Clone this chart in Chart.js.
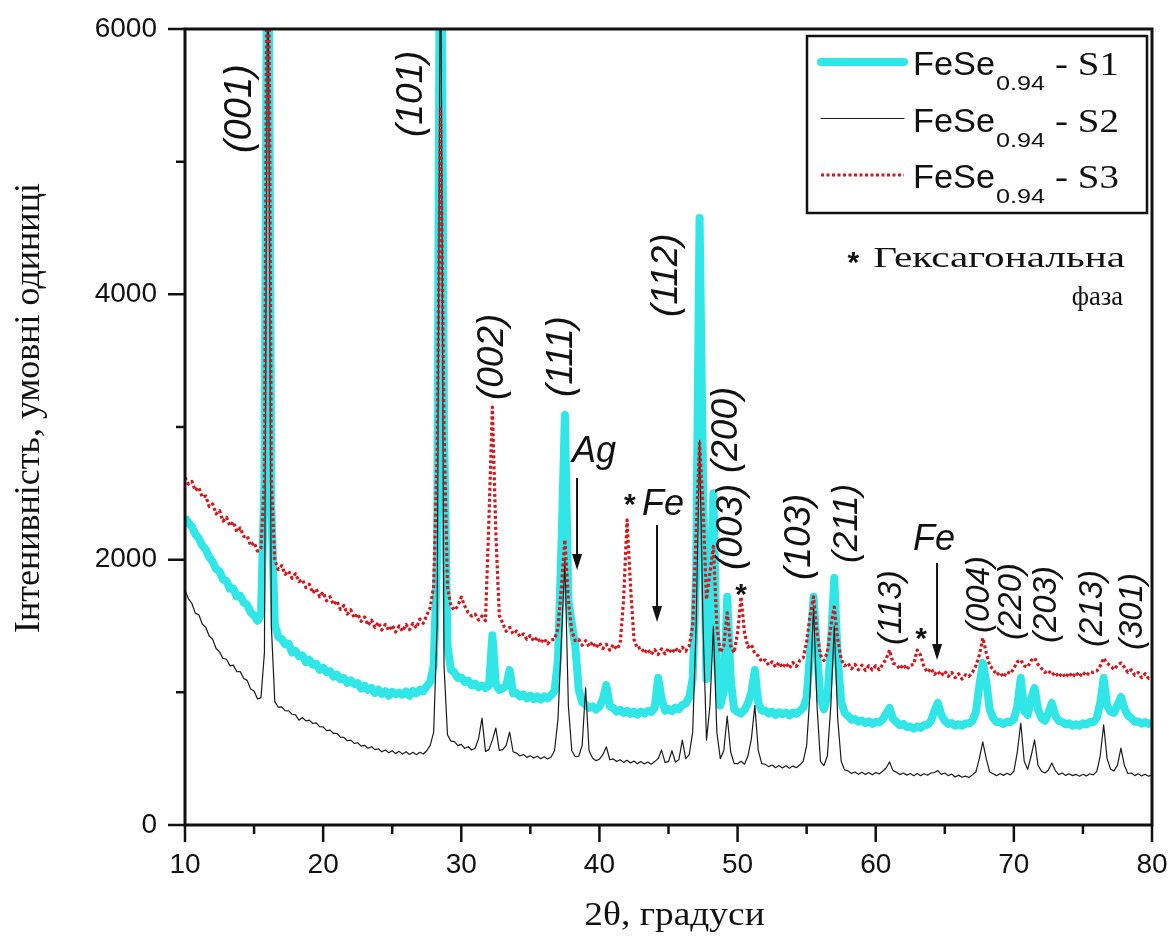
<!DOCTYPE html>
<html lang="uk">
<head>
<meta charset="utf-8">
<title>FeSe0.94 — дифрактограми</title>
<script src="https://cdn.jsdelivr.net/npm/chart.js@4.4.1/dist/chart.umd.min.js"></script>
<style>
  html, body { margin: 0; padding: 0; background: #fff; }
  #wrap { width: 1170px; height: 938px; }
</style>
</head>
<body>
<div id="wrap"><canvas id="xrdChart" width="1170" height="938"></canvas></div>
<script>
// Дифрактограми зразків FeSe0.94, крок сканування 0.25° (10°…80°)
const scanStart = 10;
const scanStep = 0.25;

// S1 — інтенсивність, по рядку на кожен градус (10.00, 10.25, 10.50, 10.75)
const intensityS1 = [
  2320, 2275, 2250, 2190,
  2160, 2105, 2075, 2020,
  1985, 1930, 1912, 1850,
  1840, 1780, 1782, 1722,
  1728, 1676, 1660, 1602,
  1580, 1540, 1585, 2600,
  8000, 2400, 1510, 1420,
  1402, 1362, 1368, 1300,
  1312, 1272, 1278, 1228,
  1246, 1208, 1215, 1170,
  1186, 1152, 1160, 1118,
  1134, 1098, 1108, 1072,
  1090, 1062, 1070, 1028,
  1050, 1018, 1034, 995,
  1020, 988, 1008, 975,
  1004, 985, 998, 982,
  1006, 975, 1010, 992,
  1020, 1008, 1048, 1080,
  1200, 2000, 8000, 3000,
  1350, 1170, 1150, 1108,
  1112, 1078, 1088, 1052,
  1066, 1038, 1052, 1032,
  1048, 1430, 1060, 1018,
  1030, 1050, 1168, 992,
  995, 968, 985, 955,
  975, 948, 970, 945,
  970, 955, 978, 1010,
  1250, 2100, 3090, 1700,
  1520, 1350, 1020, 925,
  908, 882, 895, 870,
  890, 950, 1055, 895,
  880, 855, 868, 845,
  860, 838, 855, 832,
  855, 840, 860, 852,
  885, 1108, 950, 862,
  875, 858, 885, 872,
  905, 915, 965, 1100,
  1900, 4575, 2600, 1100,
  1700, 2500, 1250, 900,
  1000, 1720, 1100, 872,
  852, 840, 868, 918,
  1000, 1168, 920, 862,
  862, 840, 855, 830,
  850, 835, 848, 826,
  848, 838, 858, 885,
  960, 1300, 1720, 1300,
  950, 872, 965, 1350,
  1862, 1250, 930, 845,
  822, 792, 798, 778,
  788, 768, 782, 762,
  778, 772, 795, 840,
  882, 800, 776, 752,
  762, 738, 742, 726,
  742, 732, 752, 756,
  785, 860, 920, 830,
  785, 762, 768, 748,
  760, 748, 766, 765,
  785, 850, 1050, 1221,
  1080, 870, 806, 774,
  776, 762, 778, 776,
  795, 900, 1108, 860,
  830, 950, 1033, 870,
  805, 785, 845, 920,
  825, 785, 776, 758,
  766, 748, 760, 748,
  766, 758, 776, 775,
  805, 920, 1108, 900,
  852, 845, 905, 965,
  880, 825, 806, 778,
  780, 764, 776, 762,
  769
];

// S2
const intensityS2 = [
  1770, 1705, 1670, 1595,
  1585, 1515, 1490, 1425,
  1400, 1330, 1305, 1255,
  1250, 1200, 1205, 1155,
  1156, 1105, 1090, 1025,
  1010, 950, 960, 1300,
  7000, 1500, 930, 888,
  890, 862, 860, 835,
  830, 790, 810, 785,
  790, 765, 770, 742,
  740, 712, 715, 690,
  690, 662, 660, 635,
  640, 615, 620, 595,
  600, 578, 590, 568,
  575, 552, 565, 545,
  560, 538, 555, 535,
  553, 532, 548, 530,
  548, 535, 560, 600,
  700, 1500, 7000, 1200,
  680, 632, 628, 598,
  608, 578, 590, 565,
  578, 650, 806, 555,
  568, 640, 731, 562,
  568, 600, 701, 552,
  542, 520, 532, 510,
  522, 505, 518, 500,
  515, 498, 512, 560,
  800, 1400, 2000, 900,
  560, 515, 518, 600,
  1033, 560, 505, 485,
  496, 530, 590, 492,
  498, 478, 492, 472,
  488, 468, 482, 462,
  478, 460, 475, 458,
  478, 500, 565, 472,
  478, 560, 475, 492,
  640, 500, 530, 700,
  1500, 2900, 1500, 640,
  900, 1500, 700, 500,
  560, 820, 550, 465,
  462, 480, 458, 520,
  650, 900, 560, 462,
  458, 440, 452, 432,
  448, 430, 446, 428,
  444, 432, 452, 480,
  600, 1000, 1650, 900,
  480, 448, 520, 900,
  1500, 800, 480, 415,
  408, 388, 400, 382,
  398, 380, 396, 378,
  396, 385, 405, 430,
  475, 410, 398, 380,
  392, 376, 388, 372,
  388, 372, 386, 375,
  392, 395, 410, 382,
  392, 372, 384, 362,
  376, 360, 368, 358,
  378, 400, 500, 626,
  500, 400, 386, 372,
  388, 374, 390, 378,
  405, 550, 769, 480,
  420, 520, 641, 450,
  405, 392, 415, 467,
  410, 380, 392, 374,
  386, 372, 382, 368,
  382, 370, 386, 378,
  402, 520, 754, 500,
  420, 408, 450, 580,
  450, 388, 392, 372,
  386, 370, 382, 368,
  377
];

// S3
const intensityS3 = [
  2620, 2570, 2590, 2520,
  2545, 2470, 2480, 2400,
  2420, 2345, 2370, 2290,
  2320, 2255, 2285, 2210,
  2240, 2175, 2180, 2105,
  2130, 2065, 2090, 2600,
  8000, 2600, 2000, 1925,
  1955, 1890, 1915, 1860,
  1895, 1835, 1850, 1790,
  1815, 1748, 1780, 1720,
  1755, 1690, 1720, 1660,
  1690, 1625, 1655, 1590,
  1622, 1560, 1592, 1535,
  1568, 1505, 1545, 1488,
  1528, 1470, 1512, 1465,
  1505, 1455, 1500, 1460,
  1512, 1472, 1520, 1485,
  1552, 1520, 1580, 1640,
  1800, 2800, 5400, 3000,
  1800, 1650, 1620, 1650,
  1718, 1650, 1600, 1575,
  1590, 1545, 1575, 1540,
  2300, 3150, 2200, 1580,
  1520, 1460, 1490, 1440,
  1462, 1420, 1440, 1400,
  1428, 1385, 1415, 1372,
  1405, 1365, 1395, 1400,
  1480, 1800, 2150, 1700,
  1460, 1390, 1400, 1355,
  1390, 1345, 1380, 1335,
  1372, 1330, 1362, 1318,
  1360, 1325, 1365, 1700,
  2300, 1800, 1400, 1330,
  1340, 1295, 1325, 1285,
  1322, 1285, 1328, 1290,
  1332, 1295, 1335, 1300,
  1340, 1310, 1350, 1500,
  2200, 2880, 2400, 1700,
  1900, 2100, 1500, 1300,
  1350, 1600, 1350, 1300,
  1450, 1720, 1450, 1340,
  1360, 1290, 1275, 1230,
  1245, 1205, 1230, 1190,
  1225, 1185, 1220, 1182,
  1225, 1195, 1240, 1260,
  1380, 1580, 1720, 1450,
  1280, 1240, 1300, 1500,
  1643, 1400, 1250, 1200,
  1220, 1178, 1210, 1170,
  1205, 1165, 1200, 1168,
  1200, 1170, 1210, 1250,
  1319, 1220, 1210, 1175,
  1210, 1172, 1205, 1210,
  1319, 1280, 1190, 1150,
  1180, 1135, 1160, 1125,
  1160, 1120, 1150, 1110,
  1140, 1100, 1132, 1120,
  1150, 1200, 1280, 1410,
  1300, 1200, 1175, 1130,
  1150, 1115, 1155, 1140,
  1180, 1230, 1244, 1200,
  1190, 1240, 1259, 1210,
  1180, 1150, 1165, 1130,
  1150, 1115, 1145, 1112,
  1148, 1115, 1150, 1118,
  1152, 1125, 1155, 1150,
  1160, 1200, 1259, 1220,
  1200, 1172, 1205, 1221,
  1190, 1150, 1170, 1130,
  1150, 1110, 1140, 1105,
  1116
];

const sampleNames = ['S1', 'S2', 'S3'];

const xTicks = [10, 20, 30, 40, 50, 60, 70, 80];
const xMinorTicks = [15, 25, 35, 45, 55, 65, 75];
const yTicks = [0, 2000, 4000, 6000];
const yMinorTicks = [1000, 3000, 5000];

const xTitle = '2θ, градуси';
const yTitle = 'Інтенивність, умовні одиниці';

// індекси рефлексів: положення 2θ та інтенсивність, з якої починається підпис
const reflexes = [
  { text: '(001)', at: 13.98, from: 5065, size: 38 },
  { text: '(101)', at: 26.43, from: 5186, size: 37 },
  { text: '(002)', at: 32.30, from: 3203, size: 37 },
  { text: '(111)', at: 37.29, from: 3226, size: 37 },
  { text: '(112)', at: 44.89, from: 3829, size: 37 },
  { text: '(200)', at: 49.24, from: 2653, size: 37 },
  { text: '(003)', at: 49.60, from: 1922, size: 37 },
  { text: '(103)', at: 54.52, from: 1847, size: 37 },
  { text: '(211)', at: 57.92, from: 1975, size: 35 },
  { text: '(113)', at: 61.18, from: 1357, size: 33 },
  { text: '(004)', at: 67.55, from: 1447, size: 33 },
  { text: '(220)', at: 69.87, from: 1394, size: 33 },
  { text: '(203)', at: 72.40, from: 1372, size: 33 },
  { text: '(213)', at: 75.73, from: 1342, size: 33 },
  { text: '(301)', at: 78.63, from: 1319, size: 33 }
];

// домішкові фази: підпис і стрілка до положення піку
const phaseMarks = [
  { text: 'Ag', at: 38.02, level: 2736, arrowAt: 38.38, arrowFrom: 2616, arrowTo: 1922 },
  { text: 'Fe', at: 43.08, level: 2337, arrowAt: 44.17, arrowFrom: 2261, arrowTo: 1530 },
  { text: 'Fe', at: 62.70, level: 2073, arrowAt: 64.44, arrowFrom: 1975, arrowTo: 1244 }
];

// гексагональна фаза
const hexStars = [
  { at: 42.21, level: 2472 },
  { at: 50.25, level: 1794 },
  { at: 63.28, level: 1462 }
];

const inkColor = '#111';
const serif = "'Liberation Serif', 'Times New Roman', serif";
const sans = "'Liberation Sans', Arial, sans-serif";

const twoTheta = intensityS1.map((_, i) => scanStart + i * scanStep);
const toPoints = values => values.map((v, i) => ({ x: twoTheta[i], y: v }));

// текст, розтягнутий по горизонталі
function fillTextWide(ctx, text, px, py, sx) {
  ctx.save();
  ctx.translate(px, py);
  ctx.scale(sx, 1);
  ctx.fillText(text, 0, 0);
  ctx.restore();
  return ctx.measureText(text).width * sx;
}

function drawArrow(ctx, px, y0, y1) {
  ctx.lineWidth = 2;
  ctx.beginPath();
  ctx.moveTo(px, y0);
  ctx.lineTo(px, y1 - 12);
  ctx.stroke();
  ctx.beginPath();
  ctx.moveTo(px, y1);
  ctx.lineTo(px - 5, y1 - 16);
  ctx.lineTo(px + 5, y1 - 16);
  ctx.closePath();
  ctx.fill();
}

function drawStar(ctx, px, py, size) {
  ctx.font = `bold ${size}px ${sans}`;
  ctx.textAlign = 'center';
  ctx.textBaseline = 'alphabetic';
  ctx.fillText('*', px, py + size * 0.58);
}

function drawLegend(ctx, chart) {
  const area = chart.chartArea;
  const left = area.right - 345;
  const top = area.top + 7;
  ctx.lineWidth = 2.5;
  ctx.strokeStyle = inkColor;
  ctx.setLineDash([]);
  ctx.strokeRect(left, top, 340, 177);

  chart.data.datasets.forEach((ds, i) => {
    const base = top + 39 + i * 56.5;
    ctx.save();
    ctx.strokeStyle = ds.borderColor;
    ctx.lineWidth = ds.borderWidth;
    ctx.lineCap = ds.borderDash ? 'butt' : 'round';
    ctx.setLineDash(ds.borderDash || []);
    ctx.beginPath();
    ctx.moveTo(left + 14, base - 13);
    ctx.lineTo(left + 97, base - 13);
    ctx.stroke();
    ctx.restore();

    let tx = left + 106;
    ctx.textAlign = 'left';
    ctx.textBaseline = 'alphabetic';
    ctx.font = `33px ${sans}`;
    tx += fillTextWide(ctx, 'FeSe', tx, base, 1.04) + 1;
    ctx.font = `21px ${sans}`;
    tx += fillTextWide(ctx, '0.94', tx, base + 15, 1.2) + 10;
    ctx.font = `33px ${serif}`;
    fillTextWide(ctx, '- ' + sampleNames[i], tx, base, 1.18);
  });
}

const decorations = {
  id: 'decorations',
  afterDraw(chart) {
    const { ctx, chartArea: area, scales } = chart;
    const x = scales.x;
    const y = scales.y;
    ctx.save();
    ctx.strokeStyle = inkColor;
    ctx.fillStyle = inkColor;

    // рамка
    ctx.lineWidth = 3;
    ctx.strokeRect(area.left, area.top, area.right - area.left, area.bottom - area.top);

    // поділки назовні
    ctx.lineWidth = 2.5;
    ctx.beginPath();
    xTicks.forEach(v => {
      const px = x.getPixelForValue(v);
      ctx.moveTo(px, area.bottom);
      ctx.lineTo(px, area.bottom + 17);
    });
    xMinorTicks.forEach(v => {
      const px = x.getPixelForValue(v);
      ctx.moveTo(px, area.bottom);
      ctx.lineTo(px, area.bottom + 9);
    });
    yTicks.forEach(v => {
      const py = y.getPixelForValue(v);
      ctx.moveTo(area.left, py);
      ctx.lineTo(area.left - 17, py);
    });
    yMinorTicks.forEach(v => {
      const py = y.getPixelForValue(v);
      ctx.moveTo(area.left, py);
      ctx.lineTo(area.left - 9, py);
    });
    ctx.stroke();

    // назви осей
    ctx.font = `34px ${serif}`;
    ctx.textAlign = 'center';
    ctx.textBaseline = 'alphabetic';
    fillTextWide(ctx, xTitle, (area.left + area.right) / 2 + 6, 925, 1.1);
    ctx.save();
    ctx.translate(39, 408);
    ctx.rotate(-Math.PI / 2);
    ctx.font = `36px ${serif}`;
    ctx.fillText(yTitle, 0, 0);
    ctx.restore();

    // індекси рефлексів (вертикально)
    reflexes.forEach(r => {
      ctx.save();
      ctx.translate(x.getPixelForValue(r.at), y.getPixelForValue(r.from));
      ctx.rotate(-Math.PI / 2);
      ctx.font = `italic ${r.size}px ${sans}`;
      ctx.textAlign = 'left';
      ctx.textBaseline = 'middle';
      ctx.fillText(r.text, 0, 0);
      ctx.restore();
    });

    // Ag, Fe зі стрілками
    phaseMarks.forEach(m => {
      ctx.font = `italic 36px ${sans}`;
      ctx.textAlign = 'left';
      ctx.textBaseline = 'alphabetic';
      ctx.fillText(m.text, x.getPixelForValue(m.at), y.getPixelForValue(m.level));
      drawArrow(ctx, x.getPixelForValue(m.arrowAt), y.getPixelForValue(m.arrowFrom), y.getPixelForValue(m.arrowTo));
    });

    hexStars.forEach(s => drawStar(ctx, x.getPixelForValue(s.at), y.getPixelForValue(s.level), 30));

    drawLegend(ctx, chart);

    // примітка про гексагональну фазу
    ctx.textAlign = 'right';
    ctx.textBaseline = 'alphabetic';
    ctx.font = `29px ${serif}`;
    const hexWidth = fillTextWide(ctx, 'Гексагональна', area.right - 27, area.top + 238, 1.42);
    ctx.font = `28px ${serif}`;
    ctx.textAlign = 'right';
    fillTextWide(ctx, 'фаза', area.right - 29, area.top + 276, 0.95);
    drawStar(ctx, area.right - 27 - hexWidth - 20, area.top + 226, 30);

    ctx.restore();
  }
};

new Chart(document.getElementById('xrdChart'), {
  type: 'line',
  data: {
    datasets: [
      {
        label: 'FeSe0.94 - S1',
        data: toPoints(intensityS1),
        borderColor: 'rgb(48, 230, 230)',
        borderWidth: 8,
        order: 2
      },
      {
        label: 'FeSe0.94 - S2',
        data: toPoints(intensityS2),
        borderColor: '#1a1a1a',
        borderWidth: 1.2,
        order: 1
      },
      {
        label: 'FeSe0.94 - S3',
        data: toPoints(intensityS3),
        borderColor: 'rgb(212, 24, 30)',
        borderWidth: 3.2,
        borderDash: [3, 2.5],
        order: 0
      }
    ]
  },
  options: {
    responsive: false,
    animation: false,
    devicePixelRatio: 1,
    parsing: false,
    normalized: true,
    datasets: {
      line: {
        pointRadius: 0,
        tension: 0,
        clip: 0,
        borderJoinStyle: 'round'
      }
    },
    layout: { padding: { top: 29, right: 18, bottom: 0, left: 0 } },
    plugins: {
      legend: { display: false },
      tooltip: { enabled: false }
    },
    scales: {
      x: {
        type: 'linear',
        min: 10,
        max: 80,
        afterBuildTicks: scale => { scale.ticks = xTicks.map(v => ({ value: v })); },
        afterFit: scale => { scale.height = 113; },
        // мітки зсуваються через довжину поділки, самі поділки малюються окремо
        grid: { display: false, drawTicks: true, tickLength: 23 },
        border: { display: false },
        ticks: {
          padding: 0,
          color: inkColor,
          font: { family: sans, size: 28 },
          maxRotation: 0,
          callback: v => String(v)
        }
      },
      y: {
        type: 'linear',
        min: 0,
        max: 6000,
        afterBuildTicks: scale => { scale.ticks = yTicks.map(v => ({ value: v })); },
        afterFit: scale => { scale.width = 185; },
        grid: { display: false, drawTicks: true, tickLength: 28 },
        border: { display: false },
        ticks: {
          padding: 0,
          color: inkColor,
          font: { family: sans, size: 28 },
          callback: v => String(v)
        }
      }
    }
  },
  plugins: [decorations]
});
</script>
</body>
</html>
